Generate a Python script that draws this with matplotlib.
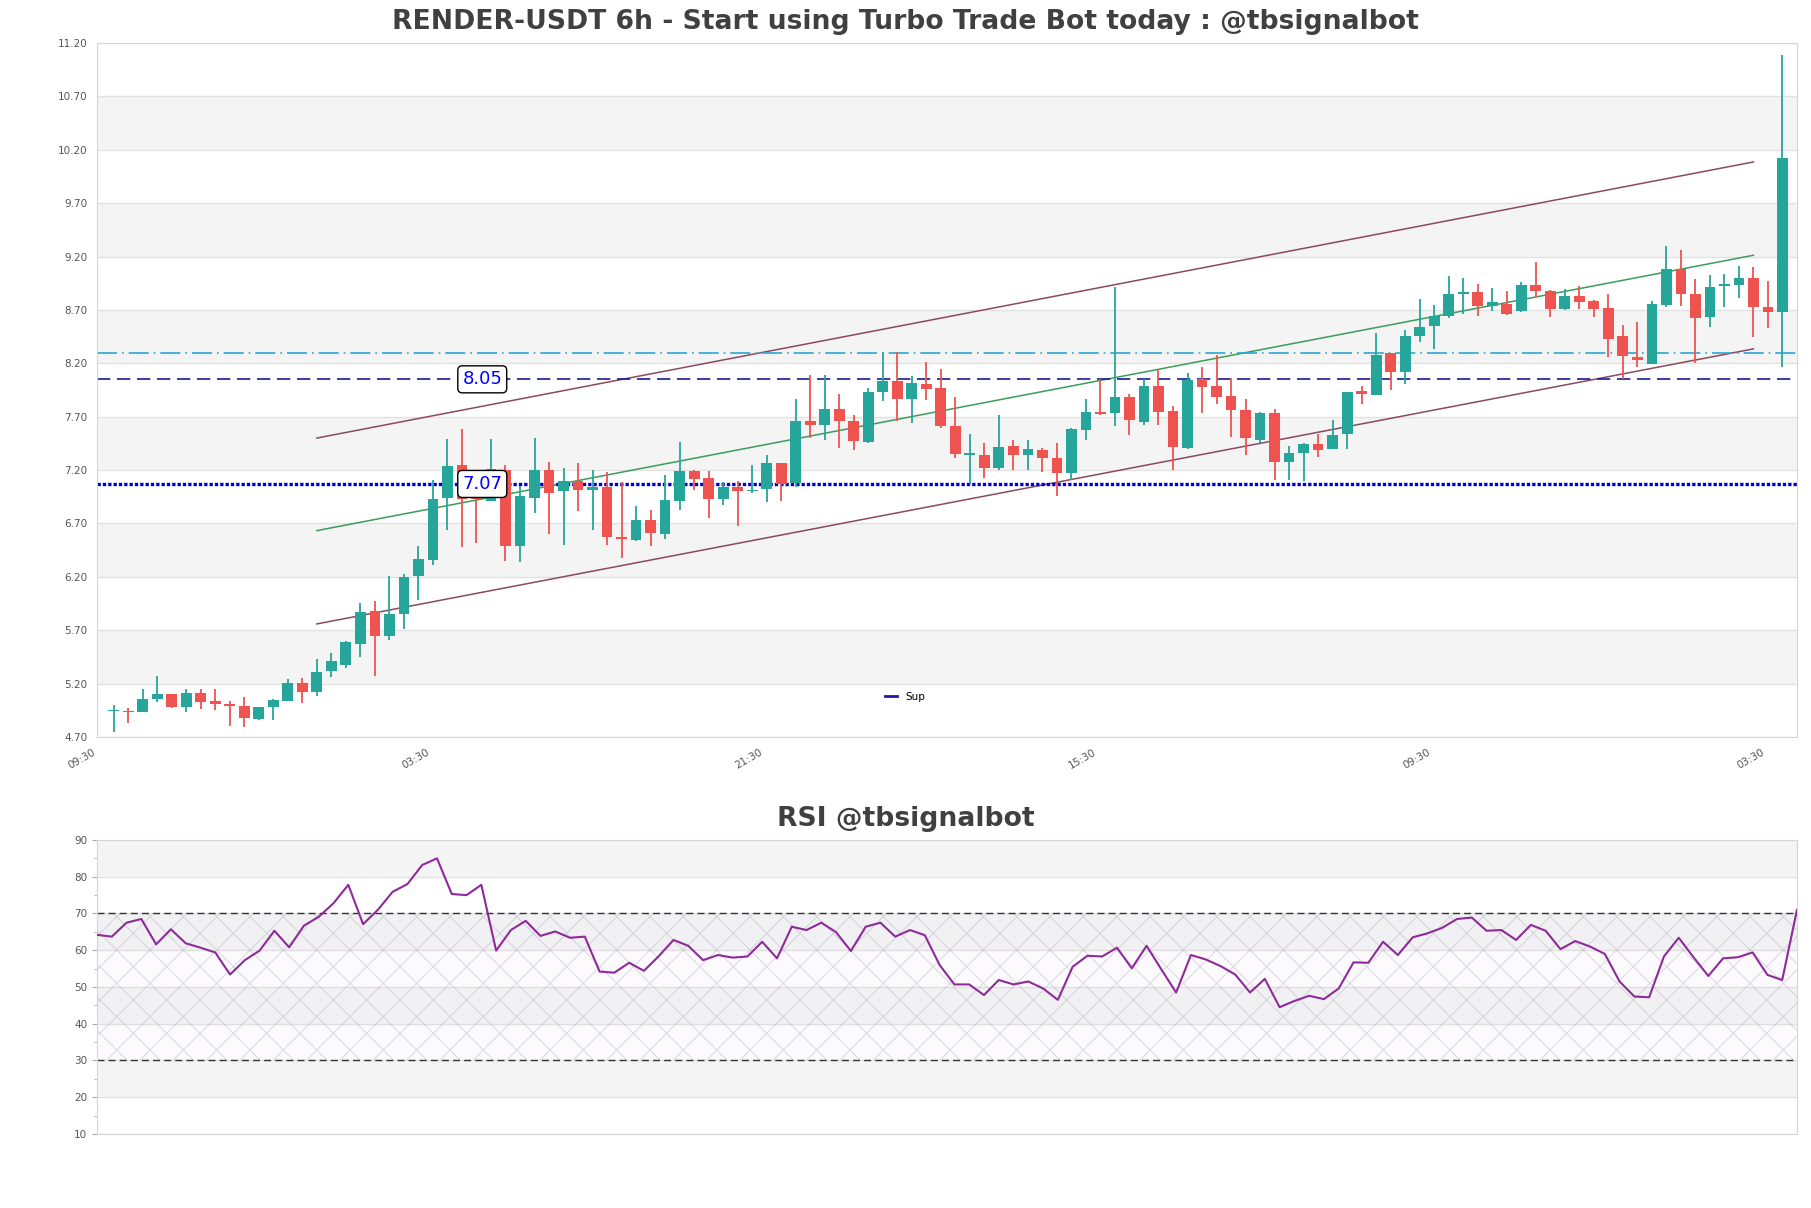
import numpy as np
import matplotlib
matplotlib.use('Agg')
import matplotlib.pyplot as plt
from matplotlib.lines import Line2D
from matplotlib.ticker import MultipleLocator, FormatStrFormatter

# 数据 (6h K线, 从图上读出)
opens = [4.94, 4.94, 4.93, 5.06, 5.10, 4.98, 5.11, 5.04, 5.01, 4.99,
         4.87, 4.98, 5.04, 5.21, 5.12, 5.315, 5.37, 5.57, 5.88, 5.645,
         5.855, 6.205, 6.36, 6.94, 7.25, 6.955, 6.915, 7.205, 6.485, 6.94,
         7.205, 7.00, 7.10, 7.01, 7.04, 6.57, 6.545, 6.73, 6.605, 6.91,
         7.195, 7.125, 6.93, 7.04, 7.005, 7.025, 7.265, 7.08, 7.66, 7.62,
         7.775, 7.66, 7.46, 7.93, 8.035, 7.87, 8.01, 7.97, 7.615, 7.345,
         7.34, 7.215, 7.43, 7.345, 7.39, 7.31, 7.17, 7.58, 7.745, 7.73,
         7.88, 7.65, 7.99, 7.755, 7.41, 8.055, 7.985, 7.89, 7.765, 7.485,
         7.73, 7.275, 7.36, 7.44, 7.40, 7.54, 7.94, 7.905, 8.295, 8.115,
         8.46, 8.545, 8.64, 8.845, 8.87, 8.735, 8.755, 8.69, 8.93, 8.88,
         8.705, 8.83, 8.78, 8.72, 8.455, 8.26, 8.19, 8.75, 9.08, 8.85,
         8.63, 8.928, 8.93, 8.995, 8.73, 8.68]
highs = [5.00, 4.97, 5.15, 5.27, 5.10, 5.15, 5.145, 5.145, 5.035, 5.07,
         4.985, 5.06, 5.245, 5.255, 5.43, 5.49, 5.60, 5.955, 5.97, 6.205,
         6.225, 6.485, 7.11, 7.49, 7.585, 7.10, 7.49, 7.25, 7.05, 7.505,
         7.28, 7.215, 7.265, 7.205, 7.18, 7.085, 6.86, 6.83, 7.15, 7.46,
         7.205, 7.19, 7.085, 7.095, 7.25, 7.345, 7.27, 7.87, 8.095, 8.095,
         7.915, 7.72, 7.97, 8.31, 8.305, 8.08, 8.21, 8.145, 7.88, 7.535,
         7.45, 7.72, 7.485, 7.485, 7.41, 7.45, 7.59, 7.87, 8.05, 8.915,
         7.915, 8.05, 8.135, 7.80, 8.105, 8.165, 8.28, 8.065, 7.87, 7.74,
         7.77, 7.43, 7.45, 7.54, 7.665, 7.935, 7.99, 8.48, 8.30, 8.515,
         8.805, 8.75, 9.015, 8.995, 8.945, 8.91, 8.88, 8.96, 9.145, 8.885,
         8.90, 8.92, 8.79, 8.845, 8.555, 8.585, 8.78, 9.30, 9.265, 8.985,
         9.03, 9.04, 9.115, 9.105, 8.975, 11.09]
lows = [4.75, 4.83, 4.93, 5.03, 4.97, 4.93, 4.96, 4.95, 4.80, 4.79,
        4.86, 4.86, 5.035, 5.02, 5.08, 5.26, 5.35, 5.45, 5.275, 5.61,
        5.71, 5.98, 6.31, 6.64, 6.48, 6.52, 6.91, 6.35, 6.34, 6.80,
        6.60, 6.495, 6.815, 6.64, 6.495, 6.375, 6.54, 6.485, 6.555, 6.83,
        7.015, 6.75, 6.875, 6.68, 6.99, 6.905, 6.915, 7.04, 7.50, 7.48,
        7.41, 7.385, 7.455, 7.845, 7.655, 7.645, 7.855, 7.595, 7.31, 7.065,
        7.125, 7.20, 7.205, 7.205, 7.18, 6.955, 7.11, 7.485, 7.72, 7.61,
        7.53, 7.625, 7.625, 7.205, 7.40, 7.73, 7.815, 7.51, 7.345, 7.455,
        7.105, 7.11, 7.095, 7.32, 7.40, 7.40, 7.815, 7.905, 7.95, 8.005,
        8.395, 8.33, 8.625, 8.665, 8.645, 8.69, 8.655, 8.68, 8.82, 8.63,
        8.695, 8.71, 8.635, 8.255, 8.05, 8.165, 8.19, 8.73, 8.74, 8.205,
        8.54, 8.725, 8.81, 8.445, 8.53, 8.17]
closes = [4.945, 4.93, 5.06, 5.10, 4.98, 5.11, 5.03, 5.01, 4.99, 4.88,
          4.98, 5.05, 5.21, 5.12, 5.31, 5.415, 5.59, 5.87, 5.645, 5.855,
          6.195, 6.37, 6.93, 7.24, 6.93, 6.925, 7.21, 6.485, 6.96, 7.205,
          6.99, 7.10, 7.01, 7.04, 6.57, 6.55, 6.735, 6.615, 6.92, 7.195,
          7.12, 6.93, 7.04, 7.00, 7.012, 7.265, 7.07, 7.66, 7.625, 7.775,
          7.66, 7.47, 7.93, 8.03, 7.87, 8.02, 7.963, 7.61, 7.35, 7.355,
          7.215, 7.42, 7.345, 7.40, 7.31, 7.17, 7.585, 7.745, 7.727, 7.88,
          7.665, 7.99, 7.745, 7.415, 8.04, 7.975, 7.88, 7.765, 7.505, 7.735,
          7.275, 7.36, 7.44, 7.385, 7.525, 7.93, 7.915, 8.28, 8.115, 8.46,
          8.54, 8.645, 8.85, 8.87, 8.735, 8.775, 8.665, 8.935, 8.875, 8.705,
          8.835, 8.77, 8.705, 8.43, 8.265, 8.235, 8.76, 9.08, 8.845, 8.62,
          8.915, 8.932, 9.00, 8.73, 8.68, 10.12]

rsi = [64.2, 63.7, 67.5, 68.5, 61.6, 65.7, 61.9, 60.7, 59.4, 53.4,
       57.3, 59.9, 65.3, 60.8, 66.7, 69.1, 72.8, 77.8, 67.1, 71.0,
       75.9, 78.0, 83.2, 85.0, 75.3, 75.0, 77.8, 59.9, 65.5, 68.0,
       63.9, 65.1, 63.4, 63.7, 54.2, 53.9, 56.6, 54.4, 58.4, 62.8,
       61.2, 57.3, 58.7, 58.0, 58.3, 62.3, 57.8, 66.4, 65.5, 67.5,
       64.9, 59.8, 66.4, 67.5, 63.7, 65.5, 64.1, 56.0, 50.7, 50.7,
       47.8, 51.9, 50.7, 51.5, 49.6, 46.5, 55.5, 58.5, 58.3, 60.7,
       55.1, 61.2, 54.8, 48.5, 58.7, 57.5, 55.7, 53.4, 48.5, 52.2,
       44.5, 46.2, 47.6, 46.7, 49.6, 56.7, 56.6, 62.3, 58.7, 63.5,
       64.6, 66.1, 68.5, 68.9, 65.3, 65.5, 62.8, 66.9, 65.3, 60.3,
       62.5, 61.0, 59.0, 51.5, 47.4, 47.2, 58.3, 63.4, 58.1, 53.0,
       57.8, 58.1, 59.4, 53.3, 51.9, 71.0]

# 通道线
chan_x = [14, 113]
chan_upper = [7.50, 10.086]
chan_mid = [6.633, 9.212]
chan_lower = [5.759, 8.335]

sup_level = 7.07
res_level = 8.05
cyan_level = 8.30

xtick_pos = [-1.15, 21.85, 44.85, 67.85, 90.85, 113.85]
xtick_lab = ['09:30', '03:30', '21:30', '15:30', '09:30', '03:30']

up_c = '#26a69a'
dn_c = '#ef5350'
band_c = '#f4f4f4'
grid_c = '#e2e2e2'
spine_c = '#d6d6d6'
tick_c = '#555555'

plt.rcParams['hatch.linewidth'] = 0.7


def style_axes(ax, ticks):
    for k in range(1, len(ticks) - 1, 2):
        ax.axhspan(ticks[k], ticks[k + 1], color=band_c, zorder=0, lw=0)
    ax.set_yticks(ticks)
    ax.grid(axis='y', color=grid_c, lw=1, zorder=0.5)
    ax.set_axisbelow(True)
    for s in ax.spines.values():
        s.set_color(spine_c)
    ax.tick_params(colors=tick_c, labelsize=7.5)


fig = plt.figure(figsize=(18.11, 12.08), dpi=100)

# ----------------- 主图 -------------------#
ax = fig.add_axes([0.05356, 0.3899, 0.9387, 0.5745])
x = np.arange(len(opens))
o = np.array(opens)
h = np.array(highs)
l = np.array(lows)
c = np.array(closes)
colors = np.where(c >= o, up_c, dn_c)
ax.vlines(x, l, h, colors=colors, lw=1.3, zorder=3)
body = np.maximum(np.abs(c - o), 0.012)
ax.bar(x, body, bottom=np.minimum(o, c), width=0.74, color=colors, zorder=4)

ax.plot(chan_x, chan_upper, color='#8a4a62', lw=1.1, zorder=2)
ax.plot(chan_x, chan_mid, color='#3a9d5a', lw=1.1, zorder=2)
ax.plot(chan_x, chan_lower, color='#8a4a62', lw=1.1, zorder=2)

ax.axhline(sup_level, color='#0000cc', lw=2.4, ls=(0, (1, 0.6)), zorder=2.5)
ax.axhline(res_level, color='#1a1a99', lw=1.2, ls=(0, (8, 4)), zorder=2.5)
ax.axhline(cyan_level, color='#2aa5d5', lw=1.2, ls=(0, (12, 3, 1, 3)), zorder=2.5)

box = dict(boxstyle='round,pad=0.25', fc='white', ec='black', lw=1)
ax.text(25.4, res_level, '%.2f' % res_level, color='#0000ff', fontsize=13,
        ha='center', va='center', bbox=box, zorder=6)
ax.text(25.4, sup_level, '%.2f' % sup_level, color='#0000ff', fontsize=13,
        ha='center', va='center', bbox=box, zorder=6)

yt = np.round(np.arange(4.7, 11.21, 0.5), 2)
style_axes(ax, yt)
ax.set_ylim(4.7, 11.2)
ax.set_xlim(-1.15, 116.0)
ax.yaxis.set_major_formatter(FormatStrFormatter('%.2f'))
ax.set_xticks(xtick_pos)
ax.set_xticklabels(xtick_lab, rotation=30, ha='right')
ax.tick_params(length=0, pad=7)

ax.legend(handles=[Line2D([], [], color='#1c1ca8', lw=2, label='Sup')],
          loc='center', bbox_to_anchor=(905 / 1811, 1 - 697 / 1208),
          bbox_transform=fig.transFigure, frameon=False, fontsize=7.5,
          handlelength=1.1)

fig.text(0.5, 0.982, 'RENDER-USDT 6h - Start using Turbo Trade Bot today : @tbsignalbot',
         ha='center', va='center', fontsize=19.2, fontweight='bold', color='#404040')

# ----------------- RSI -------------------#
ax2 = fig.add_axes([0.05356, 0.06126, 0.9387, 0.24338])
rt = np.arange(10, 91, 10)
style_axes(ax2, rt)
ax2.fill_between([0, len(rsi) - 1], 30, 70, facecolor=(0.6, 0.3, 0.7, 0.025),
                 edgecolor=(0.55, 0.55, 0.62, 0.3), hatch='x', lw=0, zorder=1)
ax2.axhline(70, color='#333333', lw=1, ls=(0, (5, 3)), zorder=2)
ax2.axhline(30, color='#333333', lw=1, ls=(0, (5, 3)), zorder=2)
ax2.plot(np.arange(len(rsi)), rsi, color='#8e2a9a', lw=1.5, zorder=3)
ax2.set_ylim(10, 90)
ax2.set_xlim(0, len(rsi) - 1)
ax2.set_xticks([])
ax2.yaxis.set_minor_locator(MultipleLocator(5))
ax2.tick_params(axis='y', which='major', length=3.5, color='#aaaaaa')
ax2.tick_params(axis='y', which='minor', length=2, color='#aaaaaa')

fig.text(0.5, 0.322, 'RSI @tbsignalbot', ha='center', va='center',
         fontsize=19.2, fontweight='bold', color='#404040')

plt.savefig('out.png', dpi=100)
